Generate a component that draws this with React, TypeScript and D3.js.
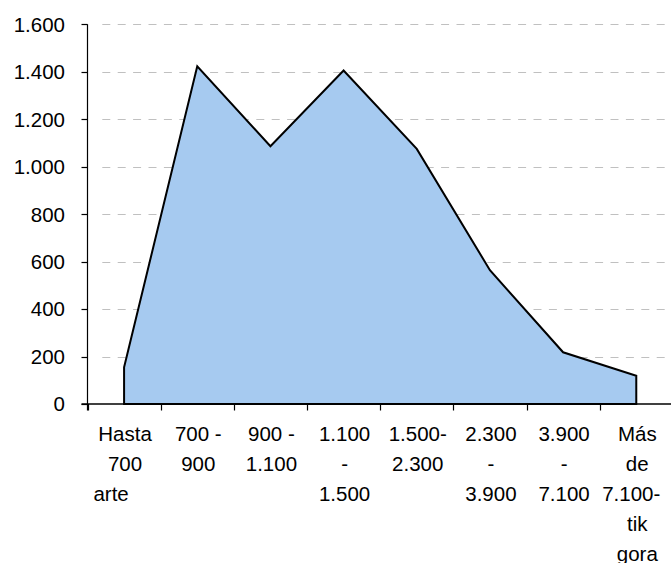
import React from "react";
import * as d3 from "d3";

const categories = [
  "Hasta 700 arte",
  "700 - 900",
  "900 - 1.100",
  "1.100 - 1.500",
  "1.500-2.300",
  "2.300 - 3.900",
  "3.900 - 7.100",
  "Más de 7.100-tik gora",
];
const categoryLines = [
  ["Hasta", "700", "arte"],
  ["700 -", "900"],
  ["900 -", "1.100"],
  ["1.100", "-", "1.500"],
  ["1.500-", "2.300"],
  ["2.300", "-", "3.900"],
  ["3.900", "-", "7.100"],
  ["Más", "de", "7.100-", "tik", "gora"],
];
const values = [155, 1423, 1086, 1405, 1075, 564, 218, 119];
const yTicks = [0, 200, 400, 600, 800, 1000, 1200, 1400, 1600];

const W = 671;
const H = 563;
const left = 87.5;
const bandW = 73.17;
const top = 24.3;
const bottom = 404;
const FONT = "'Liberation Sans', Arial, sans-serif";

function fmt(v: number) {
  return d3.format(",")(v).replace(/,/g, ".");
}

export default function App() {
  const x = d3
    .scaleBand<string>()
    .domain(categories)
    .range([left, left + bandW * categories.length])
    .padding(0);
  const y = d3.scaleLinear().domain([0, 1600]).range([bottom, top]);
  const cx = (c: string) => (x(c) as number) + x.bandwidth() / 2;

  const data = categories.map((c, i) => ({ c, v: values[i] }));
  const area = d3
    .area<{ c: string; v: number }>()
    .x((d) => cx(d.c))
    .y0(y(0))
    .y1((d) => y(d.v))
    .curve(d3.curveLinear);

  const lineDx = (ci: number, li: number) => {
    if (ci === 0 && li === 2) return -13;
    if (ci === 7 && li === 2) return -5;
    return 1;
  };

  return (
    <svg
      width={W}
      height={H}
      style={{ position: "absolute", left: 0, top: 0, background: "#fff" }}
      fontFamily={FONT}
    >
      <rect x={0} y={0} width={W} height={H} fill="#fff" />
      {yTicks
        .filter((t) => t > 0)
        .map((t) => (
          <line
            key={"g" + t}
            x1={102.3}
            x2={665}
            y1={Math.round(y(t)) + 0.5}
            y2={Math.round(y(t)) + 0.5}
            stroke="#c0c0c0"
            strokeWidth={1}
            strokeDasharray="8 7.4"
          />
        ))}
      <path
        d={area(data) || ""}
        fill="#A6CAF0"
        stroke="#000"
        strokeWidth={2}
        strokeLinejoin="miter"
      />
      {/* y axis */}
      <line x1={left} x2={left} y1={top} y2={bottom + 6.5} stroke="#000" strokeWidth={1.2} />
      {yTicks.map((t) => (
        <g key={"yt" + t}>
          <line
            x1={left - 6}
            x2={left}
            y1={Math.round(y(t)) + 0.5}
            y2={Math.round(y(t)) + 0.5}
            stroke="#000"
            strokeWidth={1.2}
          />
          <text
            x={65}
            y={y(t)}
            dy="0.36em"
            textAnchor="end"
            fontSize={20.5}
            fill="#000"
          >
            {fmt(t)}
          </text>
        </g>
      ))}
      {/* x axis */}
      <line x1={left - 6} x2={W} y1={bottom} y2={bottom} stroke="#000" strokeWidth={1.5} />
      {categories.map((c) => (
        <line
          key={"xt" + c}
          x1={Math.round(x(c) as number) + 0.5}
          x2={Math.round(x(c) as number) + 0.5}
          y1={bottom}
          y2={bottom + 6.5}
          stroke="#000"
          strokeWidth={1.2}
        />
      ))}
      {categories.map((c, ci) => (
        <text key={"xl" + c} textAnchor="middle" fontSize={20.5} fill="#000">
          {categoryLines[ci].map((ln, li) => (
            <tspan key={li} x={cx(c) + lineDx(ci, li)} y={434 + li * 30} dy="0.36em">
              {ln}
            </tspan>
          ))}
        </text>
      ))}
    </svg>
  );
}
